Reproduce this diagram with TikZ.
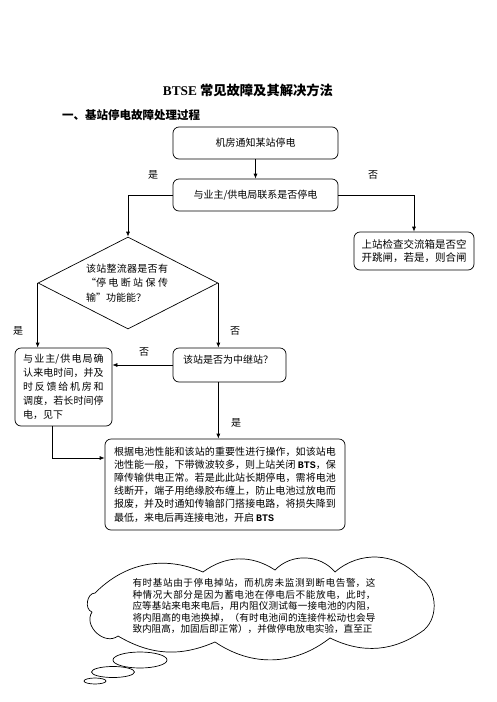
\documentclass[tikz,border=0pt]{standalone}
\usepackage{fontspec}
\setmainfont{Liberation Serif}
\setmonofont{Liberation Mono}
\newfontfamily\cjk{Noto Sans CJK SC}
\usetikzlibrary{shapes.geometric,arrows.meta}
\XeTeXlinebreaklocale "zh"
\XeTeXlinebreakskip=0pt plus 2pt
\begin{document}
\begin{tikzpicture}[x=1pt,y=-1pt,
  every node/.style={font=\cjk\fontsize{10}{13.2}\selectfont},
  box/.style={draw, rounded corners=6pt, line width=0.7pt, inner sep=0pt},
  arr/.style={-{Latex[length=5pt,width=4pt]}, line width=0.7pt},
  lab/.style={font=\cjk\fontsize{10}{12}\selectfont, inner sep=0pt},
  txt/.style={inner sep=0pt, align=justify},
  cloudline/.style={line width=0.7pt, line join=round}]
\useasboundingbox[fill=white] (0,0) rectangle (496,702);

\node[font=\cjk\bfseries\fontsize{13.3}{15}\selectfont] (title) at (248,90) {{\rmfamily\bfseries BTSE} 常见故障及其解决方法};
\node[anchor=west, inner sep=0pt, font=\cjk\bfseries\fontsize{11.5}{14}\selectfont] (head) at (62,115) {一、基站停电故障处理过程};

\node[box, minimum width=165, minimum height=32] (b1) at (255.5,143) {机房通知某站停电};
\node[box, minimum width=165, minimum height=32] (b2) at (255.5,195) {与业主/供电局联系是否停电};
\node[box, minimum width=120, minimum height=38, align=left, font=\cjk\fontsize{10.5}{13}\selectfont] (b3) at (414,251) {上站检查交流箱是否空\\开跳闸，若是，则合闸};

\node[draw, diamond, minimum width=180, minimum height=92, inner sep=0pt, line width=0.7pt] (d) at (128,283) {};
\node[txt, text width=82, font=\cjk\fontsize{10}{14.5}\selectfont] (td) at (127,283) {该站整流器是否有\linebreak “停电断站保传\linebreak 输”功能能？};

\node[box, text width=80.5, inner xsep=8.25pt, minimum height=78, align=justify, font=\cjk\fontsize{10}{14}\selectfont] (b4) at (63.5,387) {与业主/供电局确\linebreak 认来电时间，并及\linebreak 时反馈给机房和\linebreak 调度，若长时间停\linebreak 电，见下};

\node[box, minimum width=113, minimum height=34] (b5) at (229.5,365) {};
\node[inner sep=0pt] (t5) at (228,360) {该站是否为中继站？};

\node[box, text width=222, inner xsep=9pt, minimum height=91, align=justify] (b6) at (225,484.5) {根据电池性能和该站的重要性进行操作，如该站电\linebreak 池性能一般，下带微波较多，则上站关闭 {\ttfamily\bfseries BTS}，保\linebreak 障传输供电正常。若是此此站长期停电，需将电池\linebreak 线断开，端子用绝缘胶布缠上，防止电池过放电而\linebreak 报废，并及时通知传输部门搭接电路，将损失降到\linebreak 最低，来电后再连接电池，开启 {\ttfamily\bfseries BTS}};

% cloud outline
\draw[cloudline] (95,593)
  to[bend left=34] (203,572)
  to[bend left=35] (275,570)
  to[bend left=48] (335,572)
  to[bend left=44] (418,576)
  to[bend left=55] (424,630)
  to[bend left=31] (330,638)
  to[bend left=36] (215,642)
  to[bend left=27] (118,636)
  to[bend left=80, looseness=1.2] (92,612)
  to[bend left=80, looseness=1.1] (95,593);
\node[txt, text width=243, font=\cjk\fontsize{9.6}{11.5}\selectfont] (tc) at (254,606) {有时基站由于停电掉站，而机房未监测到断电告警，这\linebreak 种情况大部分是因为蓄电池在停电后不能放电，此时，\linebreak 应等基站来电来电后，用内阻仪测试每一接电池的内阻，\linebreak 将内阻高的电池换掉，（有时电池间的连接件松动也会导\linebreak 致内阻高，加固后即正常），并做停电放电实验，直至正};
\node[draw, ellipse, minimum width=54, minimum height=16, inner sep=0pt, line width=0.7pt] (e1) at (140,660) {};
\node[draw, ellipse, minimum width=43, minimum height=11, inner sep=0pt, line width=0.7pt] (e2) at (113,672) {};
\node[draw, ellipse, minimum width=22, minimum height=6, inner sep=0pt, line width=0.7pt] (e3) at (95,681) {};

\coordinate (k) at (52,458);

\draw[arr] (b1.south) -- (b2.north);
\draw[arr] (b2.west) -| (d.north);
\draw[arr] (b2.east) -| (b3.north);
\draw[arr] (d.west) -- (d.west |- b4.north);
\draw[arr] (d.east) -- (d.east |- b5.north);
\draw[arr] (b5.west) -- (b5.west -| b4.east);
\draw[arr] (k |- b4.south) -- (k) -- (k -| b6.west);
\draw[arr] (d.east |- b5.south) -- (d.east |- b6.north);

\node[lab] (l1) at (153,175) {是};
\node[lab] (l2) at (373,175) {否};
\node[lab] (l3) at (18,331) {是};
\node[lab] (l4) at (235,331) {否};
\node[lab] (l5) at (144,352) {否};
\node[lab] (l6) at (236,423) {是};
\end{tikzpicture}
\end{document}
